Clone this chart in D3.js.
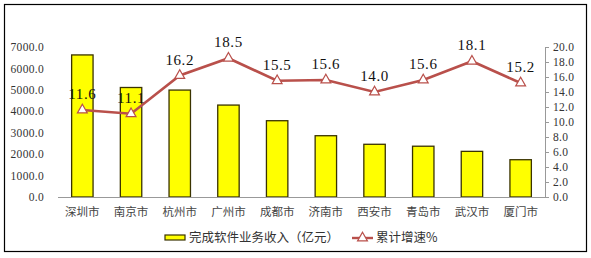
<!DOCTYPE html>
<html>
<head>
<meta charset="utf-8">
<script src="https://cdn.jsdelivr.net/npm/d3@7"></script>
<style>
  body { margin: 0; background: #fff; }
  svg { display: block; }
</style>
</head>
<body>
<div id="chart"></div>
<script>
// data
var cities = ["深圳市", "南京市", "杭州市", "广州市", "成都市", "济南市", "西安市", "青岛市", "武汉市", "厦门市"];
var revenue = [6630, 5110, 4990, 4290, 3560, 2860, 2460, 2370, 2130, 1740];
var growth = [11.6, 11.1, 16.2, 18.5, 15.5, 15.6, 14.0, 15.6, 18.1, 15.2];
var leftTicks = [0, 1000, 2000, 3000, 4000, 5000, 6000, 7000];
var rightTicks = [0, 2, 4, 6, 8, 10, 12, 14, 16, 18, 20];
var seriesNames = ["完成软件业务收入（亿元）", "累计增速%"];

var svgWidth = 591;
var svgHeight = 258;
var margin = { top: 47, right: 46, bottom: 61, left: 58 };
var width = svgWidth - margin.left - margin.right;
var height = svgHeight - margin.top - margin.bottom;

var lineColor = "#b9504b";
var numFont = "'Liberation Serif', 'DejaVu Serif', serif";
var cjkFont = "'Noto Sans CJK SC', sans-serif";

var svg = d3.select("#chart")
  .append("svg")
  .attr("width", svgWidth)
  .attr("height", svgHeight);

// outer frame
svg.append("rect")
  .attr("x", 4.5)
  .attr("y", 4.5)
  .attr("width", 582)
  .attr("height", 247)
  .attr("fill", "none")
  .attr("stroke", "#000")
  .attr("stroke-width", 1.2);

var chartGroup = svg.append("g")
  .attr("transform", `translate(${margin.left}, ${margin.top})`);

var xBand = d3.scaleBand()
  .domain(cities)
  .range([0, width])
  .paddingInner(0.56)
  .paddingOuter(0.28);

var yLeft = d3.scaleLinear().domain([0, 7000]).range([height, 0]);
var yRight = d3.scaleLinear().domain([0, 20]).range([height, 0]);

// left axis: labels only
var leftAxis = d3.axisLeft(yLeft)
  .tickValues(leftTicks)
  .tickSize(0)
  .tickPadding(14)
  .tickFormat(d3.format(".1f"));

chartGroup.append("g")
  .call(leftAxis)
  .call(g => g.select(".domain").remove())
  .selectAll("text")
  .attr("font-family", numFont)
  .attr("font-size", 11.5)
  .attr("letter-spacing", 0.3)
  .attr("fill", "#333");

// right axis
var rightAxis = d3.axisRight(yRight)
  .tickValues(rightTicks)
  .tickSizeInner(4)
  .tickSizeOuter(0)
  .tickPadding(4)
  .tickFormat(d3.format(".1f"));

var rAxis = chartGroup.append("g")
  .attr("transform", `translate(${width}, 0)`)
  .call(rightAxis);
rAxis.select(".domain").attr("stroke", "#999");
rAxis.selectAll(".tick line").attr("stroke", "#999");
rAxis.selectAll("text")
  .attr("font-family", numFont)
  .attr("font-size", 11.5)
  .attr("letter-spacing", 0.3)
  .attr("fill", "#333");

// bars
chartGroup.selectAll(".bar")
  .data(revenue)
  .enter()
  .append("rect")
  .attr("class", "bar")
  .attr("x", (d, i) => xBand(cities[i]))
  .attr("y", d => yLeft(d))
  .attr("width", xBand.bandwidth())
  .attr("height", d => height - yLeft(d))
  .attr("fill", "#ffff00")
  .attr("stroke", "#3a3300")
  .attr("stroke-width", 1.3);

// baseline
chartGroup.append("line")
  .attr("x1", 0)
  .attr("x2", width)
  .attr("y1", height + 0.5)
  .attr("y2", height + 0.5)
  .attr("stroke", "#999")
  .attr("stroke-width", 1.2);

// category labels
chartGroup.selectAll(".cat")
  .data(cities)
  .enter()
  .append("text")
  .attr("class", "cat")
  .attr("x", d => xBand(d) + xBand.bandwidth() / 2)
  .attr("y", height + 19)
  .attr("text-anchor", "middle")
  .attr("font-family", cjkFont)
  .attr("font-size", 11.5)
  .attr("fill", "#444")
  .text(d => d);

// growth line
var cx = i => xBand(cities[i]) + xBand.bandwidth() / 2;
var line = d3.line()
  .x((d, i) => cx(i))
  .y(d => yRight(d));

chartGroup.append("path")
  .datum(growth)
  .attr("d", line)
  .attr("fill", "none")
  .attr("stroke", lineColor)
  .attr("stroke-width", 2.6);

var tri = d3.symbol().type(d3.symbolTriangle).size(42);

chartGroup.selectAll(".marker")
  .data(growth)
  .enter()
  .append("path")
  .attr("class", "marker")
  .attr("d", tri)
  .attr("transform", (d, i) => `translate(${cx(i)}, ${yRight(d)})`)
  .attr("fill", "#fff")
  .attr("stroke", lineColor)
  .attr("stroke-width", 1.2);

// value labels
chartGroup.selectAll(".val")
  .data(growth)
  .enter()
  .append("text")
  .attr("class", "val")
  .attr("x", (d, i) => cx(i))
  .attr("y", d => yRight(d) - 11)
  .attr("text-anchor", "middle")
  .attr("font-family", numFont)
  .attr("font-size", 15)
  .attr("letter-spacing", 0.6)
  .attr("fill", "#111")
  .text(d => d.toFixed(1));

// legend
var legend = svg.append("g").attr("transform", "translate(0, 238)");

legend.append("rect")
  .attr("x", 165)
  .attr("y", -3)
  .attr("width", 20)
  .attr("height", 5)
  .attr("fill", "#ffff00")
  .attr("stroke", "#3a3300")
  .attr("stroke-width", 1.2);

legend.append("text")
  .attr("x", 189)
  .attr("y", 4)
  .attr("font-family", cjkFont)
  .attr("font-size", 12.5)
  .attr("fill", "#333")
  .text(seriesNames[0]);

legend.append("line")
  .attr("x1", 352)
  .attr("x2", 373)
  .attr("y1", 0)
  .attr("y2", 0)
  .attr("stroke", lineColor)
  .attr("stroke-width", 2.4);

legend.append("path")
  .attr("d", tri)
  .attr("transform", "translate(362.5, 0)")
  .attr("fill", "#fff")
  .attr("stroke", lineColor)
  .attr("stroke-width", 1.2);

legend.append("text")
  .attr("x", 376)
  .attr("y", 4)
  .attr("font-family", cjkFont)
  .attr("font-size", 12.5)
  .attr("fill", "#333")
  .text(seriesNames[1]);
</script>
</body>
</html>
